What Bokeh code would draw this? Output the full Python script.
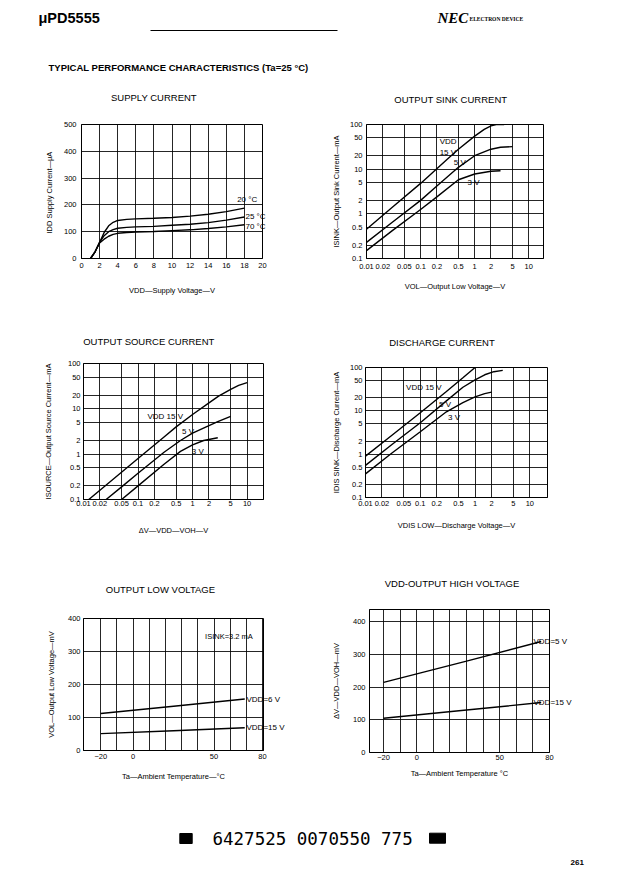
import math
from bokeh.plotting import figure
from bokeh.models import Range1d, FixedTicker, Label, CustomJSTickFormatter, LinearAxis
from bokeh.layouts import column, row
from bokeh.embed import file_html
from bokeh.resources import INLINE
from bokeh.core.properties import value

FONT = "Liberation Sans"

# ---------------- data ----------------
# Supply current (V, uA)
vdd = [1.0, 1.5, 2.0, 2.5, 3.0, 3.5, 4.0, 5.0, 6.0, 8.0, 10.0, 12.0, 14.0, 16.0, 18.0]
idd_m20 = [0, 25, 60, 97, 122, 135, 142, 146, 148, 150, 153, 158, 165, 175, 188]
idd_25 = [0, 25, 60, 85, 100, 108, 113, 116, 118, 120, 124, 128, 134, 143, 155]
idd_70 = [0, 25, 58, 72, 83, 90, 94, 97, 99, 101, 104, 107, 112, 118, 126]
supply_top_label = "20 °C"
supply_top_label_x = 17.2
supply_top_label_y = 222
supply_edge_labels = ["25 °C", "70 °C"]
supply_edge_label_y = [155, 120]

# Output sink current (V, mA)
sink_x_15 = [0.01, 0.03, 0.1, 0.3, 0.5, 1.0, 1.5, 2.0, 2.5, 3.5]
sink_15 = [0.45, 1.4, 4.8, 16, 28, 55, 78, 93, 100, 100]
sink_x_5 = [0.01, 0.03, 0.1, 0.2, 0.5, 1.0, 2.0, 3.0, 5.0]
sink_5 = [0.23, 0.65, 2.0, 4.2, 11, 20, 28, 31, 32]
sink_x_3 = [0.01, 0.03, 0.1, 0.2, 0.5, 1.0, 2.0, 3.0]
sink_3 = [0.15, 0.42, 1.25, 2.4, 5.8, 7.8, 9.0, 9.2]
sink_labels = ["VDD", "15 V", "5 V", "3 V"]
sink_label_x = [0.225, 0.225, 0.41, 0.74]
sink_label_y = [42, 24, 14.3, 5.1]

# Output source current (V, mA)
src_x_15 = [0.0125, 0.03, 0.1, 0.3, 0.5, 1.0, 2.0, 3.0, 5.0, 7.0, 10.0]
src_15 = [0.1, 0.24, 0.8, 2.4, 4.0, 7.5, 13.5, 19, 27, 33, 38]
src_x_5 = [0.026, 0.05, 0.1, 0.3, 0.6, 1.0, 1.7, 2.9, 5.0]
src_5 = [0.1, 0.19, 0.38, 1.1, 2.0, 2.9, 3.9, 5.2, 6.8]
src_x_3 = [0.05, 0.1, 0.3, 0.6, 1.0, 1.6, 2.9]
src_3 = [0.1, 0.2, 0.6, 1.15, 1.6, 2.0, 2.3]
src_labels = ["VDD 15 V", "5 V", "3 V"]
src_label_x = [0.149, 0.64, 0.97]
src_label_y = [6.7, 3.2, 1.15]

# Discharge current (V, mA)
dis_x_15 = [0.01, 0.03, 0.1, 0.3, 0.6, 1.0]
dis_15 = [0.9, 2.7, 9, 28, 58, 100]
dis_x_5 = [0.01, 0.03, 0.1, 0.3, 0.6, 1.0, 1.5, 2.2, 3.2]
dis_5 = [0.55, 1.65, 5.3, 17, 35, 52, 68, 80, 86]
dis_x_3 = [0.01, 0.03, 0.1, 0.3, 0.6, 1.0, 1.5, 2.0]
dis_3 = [0.35, 1.05, 3.3, 9.5, 15.5, 21, 25, 27]
dis_labels = ["VDD 15 V", "5 V", "3 V"]
dis_label_x = [0.055, 0.22, 0.32]
dis_label_y = [34, 14, 6.9]

# Output low voltage (degC, mV)
olv_ta = [-20, 25, 69]
olv_5 = [112, 134, 156]
olv_15 = [51, 60, 69]
olv_edge_labels = ["VDD=6 V", "VDD=15 V"]
olv_edge_label_y = [156, 71]
olv_note = "ISINK=3.2 mA"
olv_note_x = 44.5
olv_note_y = 346

# VDD - output high voltage (degC, mV)
voh_ta = [-20, 30, 75]
voh_5 = [215, 280, 340]
voh_15 = [105, 130, 153]
voh_edge_labels = ["VDD=5 V", "VDD=15 V"]
voh_edge_label_y = [341, 154]

log_x_ticks = [0.01, 0.02, 0.05, 0.1, 0.2, 0.5, 1, 2, 5, 10]
log_y_ticks = [0.1, 0.2, 0.5, 1, 2, 5, 10, 20, 50, 100]
temp_ticks = [-20, 0, 50, 80]
temp_grid = [-20, -10, 0, 10, 20, 30, 40, 50, 60, 70, 80]
mv_ticks = [0, 100, 200, 300, 400]


def make_fig(w, h, xr, yr, borders, xlog=False, ylog=False):
    l, r, t, b = borders
    p = figure(width=w, height=h, x_range=Range1d(*xr), y_range=Range1d(*yr),
               x_axis_type="log" if xlog else "linear",
               y_axis_type="log" if ylog else "linear",
               output_backend="svg", toolbar_location=None,
               min_border_left=l, min_border_right=r,
               min_border_top=t, min_border_bottom=b)
    p.frame_align = False
    p.outline_line_color = "black"
    p.outline_line_width = 1
    p.background_fill_color = "white"
    p.border_fill_color = "white"
    p.grid.grid_line_color = "black"
    p.grid.grid_line_alpha = 0.85
    p.grid.grid_line_width = 1
    for ax in p.axis:
        ax.axis_line_color = "black"
        ax.major_tick_in = 0
        ax.major_tick_out = 0
        ax.minor_tick_line_color = None
        ax.major_label_text_font = FONT
        ax.major_label_text_font_size = "7.5px"
        ax.major_label_text_color = "black"
        ax.axis_label_text_font = FONT
        ax.axis_label_text_font_size = "7.5px"
        ax.axis_label_text_font_style = "normal"
        ax.axis_label_text_color = "black"
    if xlog:
        p.xaxis.formatter = CustomJSTickFormatter(code="return String(tick);")
    if ylog:
        p.yaxis.formatter = CustomJSTickFormatter(code="return String(tick);")
    p.title.text = ""
    return p


def set_title(p, text, frac, standoff, xlog=False):
    # chart heading drawn as a one-tick axis above the frame;
    # frac = horizontal centre of the heading as a fraction of the frame width
    x0, x1 = p.x_range.start, p.x_range.end
    if xlog:
        xc = 10 ** (math.log10(x0) + frac * (math.log10(x1) - math.log10(x0)))
    else:
        xc = x0 + frac * (x1 - x0)
    ax = LinearAxis(ticker=FixedTicker(ticks=[xc]),
                    formatter=CustomJSTickFormatter(args=dict(t=text), code="return t;"),
                    axis_label=None, axis_line_color=None, major_tick_line_color=None,
                    minor_tick_line_color=None, major_tick_in=0, major_tick_out=0,
                    major_label_standoff=int(standoff), major_label_text_font=FONT,
                    major_label_text_font_size="9.5px", major_label_text_color="black")
    p.add_layout(ax, "above")


def set_axes(p, xlabel, ylabel, xs, ys):
    xa = p.below[0]
    ya = p.left[0]
    xa.axis_label = xlabel
    ya.axis_label = ylabel
    xa.major_label_standoff = xs[0]
    xa.axis_label_standoff = xs[1]
    ya.major_label_standoff = ys[0]
    ya.axis_label_standoff = ys[1]


def add_labels(p, texts, xs, ys, size="8px"):
    for t, x, y in zip(texts, xs, ys):
        p.add_layout(Label(x=x, y=y, text=t, text_font=FONT, text_font_size=size,
                           text_baseline="middle", text_align="left", text_color="black"))


def add_edge_labels(p, texts, ys, standoff, size="8px"):
    # curve-end labels that cross the right frame edge: drawn as a right axis
    order = sorted(range(len(ys)), key=lambda i: ys[i])
    ticks = [ys[i] for i in order]
    names = [texts[i] for i in order]
    ax = LinearAxis(ticker=FixedTicker(ticks=ticks),
                    formatter=CustomJSTickFormatter(args=dict(names=names),
                                                    code="return names[index];"),
                    axis_label=None,
                    axis_line_color=None, major_tick_line_color=None,
                    minor_tick_line_color=None, major_tick_in=0, major_tick_out=0,
                    major_label_standoff=int(standoff),
                    major_label_text_font=FONT, major_label_text_font_size=size,
                    major_label_text_color="black")
    p.add_layout(ax, "right")


LW = 1.4

# ---- chart 1: supply current
p1 = make_fig(311, 245, (0, 20), (0, 500), (81, 49, 39, 72))
p1.xaxis.ticker = FixedTicker(ticks=list(range(0, 21, 2)))
p1.yaxis.ticker = FixedTicker(ticks=[0, 100, 200, 300, 400, 500])
for yy in (idd_m20, idd_25, idd_70):
    p1.line(vdd, yy, color="black", line_width=LW)
add_labels(p1, [supply_top_label], [supply_top_label_x], [supply_top_label_y])
set_axes(p1, "VDD—Supply Voltage—V", "IDD  Supply Current—μA", (4, 15), (5, 7))
set_title(p1, "SUPPLY CURRENT", 0.40, 22)
add_edge_labels(p1, supply_edge_labels, supply_edge_label_y, -17)

# ---- chart 2: output sink current
p2 = make_fig(311, 245, (0.01, 18.7), (0.1, 100), (55, 79, 39, 72), True, True)
p2.xaxis.ticker = FixedTicker(ticks=log_x_ticks)
p2.yaxis.ticker = FixedTicker(ticks=log_y_ticks)
p2.line(sink_x_15, sink_15, color="black", line_width=LW)
p2.line(sink_x_5, sink_5, color="black", line_width=LW)
p2.line(sink_x_3, sink_3, color="black", line_width=LW)
add_labels(p2, sink_labels, sink_label_x, sink_label_y)
set_axes(p2, "VOL—Output Low Voltage—V", "ISINK—Output Sink Current—mA", (5, 10), (4, 6))
set_title(p2, "OUTPUT SINK CURRENT", 0.476, 20, xlog=True)

# ---- chart 3: output source current
p3 = make_fig(311, 240, (0.01, 20), (0.1, 100), (83, 48, 33, 71), True, True)
p3.xaxis.ticker = FixedTicker(ticks=log_x_ticks)
p3.yaxis.ticker = FixedTicker(ticks=log_y_ticks)
p3.line(src_x_15, src_15, color="black", line_width=LW)
p3.line(src_x_5, src_5, color="black", line_width=LW)
p3.line(src_x_3, src_3, color="black", line_width=LW)
add_labels(p3, src_labels, src_label_x, src_label_y)
set_axes(p3, "ΔV—VDD—VOH—V", "ISOURCE—Output Source Current—mA", (1, 17), (3, 12))
set_title(p3, "OUTPUT SOURCE CURRENT", 0.363, 17, xlog=True)

# ---- chart 4: discharge current
p4 = make_fig(311, 240, (0.01, 21), (0.1, 100), (54, 75, 37, 73), True, True)
p4.xaxis.ticker = FixedTicker(ticks=log_x_ticks)
p4.yaxis.ticker = FixedTicker(ticks=log_y_ticks)
p4.line(dis_x_15, dis_15, color="black", line_width=LW)
p4.line(dis_x_5, dis_5, color="black", line_width=LW)
p4.line(dis_x_3, dis_3, color="black", line_width=LW)
add_labels(p4, dis_labels, dis_label_x, dis_label_y)
set_axes(p4, "VDIS LOW—Discharge Voltage—V", "IDIS SINK—Discharge Current—mA", (3, 12), (3, 6))
set_title(p4, "DISCHARGE CURRENT", 0.42, 20, xlog=True)

# ---- chart 5: output low voltage
p5 = make_fig(311, 230, (-30.7, 80.6), (0, 400), (83, 48, 48, 50))
p5.xaxis.ticker = FixedTicker(ticks=temp_ticks)
p5.xgrid.ticker = FixedTicker(ticks=temp_grid)
p5.yaxis.ticker = FixedTicker(ticks=mv_ticks)
p5.line(olv_ta, olv_5, color="black", line_width=LW)
p5.line(olv_ta, olv_15, color="black", line_width=LW)
add_labels(p5, [olv_note], [olv_note_x], [olv_note_y], size="7.5px")
set_axes(p5, "Ta—Ambient Temperature—°C", "VOL—Output Low Voltage—mV", (3, 10), (3, 9))
set_title(p5, "OUTPUT LOW VOLTAGE", 0.428, 24)
add_edge_labels(p5, olv_edge_labels, olv_edge_label_y, -17)

# ---- chart 6: VDD - output high voltage
p6 = make_fig(311, 230, (-28.5, 80), (0, 438), (58, 73, 39, 48))
p6.xaxis.ticker = FixedTicker(ticks=temp_ticks)
p6.xgrid.ticker = FixedTicker(ticks=temp_grid)
p6.yaxis.ticker = FixedTicker(ticks=mv_ticks)
p6.line(voh_ta, voh_5, color="black", line_width=LW)
p6.line(voh_ta, voh_15, color="black", line_width=LW)
set_axes(p6, "Ta—Ambient Temperature °C", "ΔV—VDD—VOH—mV", (2, 6), (4, 9))
set_title(p6, "VDD-OUTPUT HIGH VOLTAGE", 0.459, 21)
add_edge_labels(p6, voh_edge_labels, voh_edge_label_y, -16)


def blank(w, h):
    p = figure(width=w, height=h, x_range=Range1d(0, w), y_range=Range1d(h, 0),
               output_backend="svg", toolbar_location=None, min_border=0)
    p.axis.visible = False
    p.grid.visible = False
    p.outline_line_color = None
    p.background_fill_color = "white"
    p.border_fill_color = "white"
    return p


# ---- header (page pixel coordinates)
hd = blank(622, 85)
hd.text(x=[38], y=[17], text=["μPD5555"], text_font=value(FONT), text_font_size="14.5px",
        text_font_style="bold", text_baseline="middle", text_color="black")
hd.segment(x0=[150], y0=[30], x1=[337], y1=[30], color="black", line_width=1)
hd.text(x=[437], y=[17], text=["NEC"], text_font=value("Liberation Serif"), text_font_size="15px",
        text_font_style="bold italic", text_baseline="middle", text_color="black")
hd.text(x=[469], y=[18], text=["ELECTRON DEVICE"], text_font=value("Liberation Sans Narrow"),
        text_font_size="5.5px", text_font_style="bold", text_baseline="middle", text_color="black")
hd.text(x=[48], y=[66.7], text=["TYPICAL PERFORMANCE CHARACTERISTICS (Ta=25 °C)"],
        text_font=value(FONT), text_font_size="9.5px", text_font_style="bold",
        text_baseline="middle", text_color="black")

# ---- footer (page x, page y - 800)
ft = blank(622, 94)
ft.quad(left=[179.3, 429], right=[191.7, 445], top=[33, 32.7], bottom=[43, 42.7], color="black")
ft.text(x=[212], y=[38], text=["6427525 0070550 775"], text_font=value("DejaVu Sans Mono"),
        text_font_size="17.5px", text_baseline="middle", text_color="black")
ft.text(x=[570], y=[62], text=["261"], text_font=value(FONT), text_font_size="8px",
        text_font_style="bold", text_baseline="middle", text_color="black")

layout = column(hd, row(p1, p2), row(p3, p4), row(p5, p6), ft)

with open("out.html", "w") as f:
    f.write(file_html(layout, INLINE))
